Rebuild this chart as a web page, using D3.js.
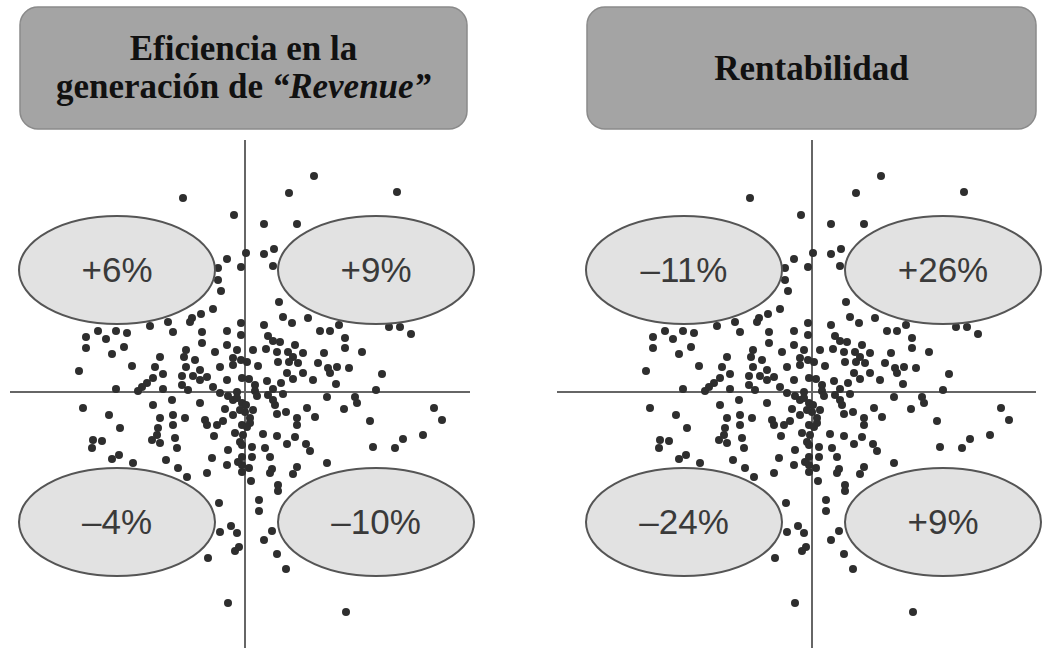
<!DOCTYPE html>
<html>
<head>
<meta charset="utf-8">
<script src="https://cdn.jsdelivr.net/npm/d3@7"></script>
<style>
  body { margin: 0; background: #fff; }
</style>
</head>
<body>
<svg id="chart" width="1054" height="648"></svg>
<script>
// scatter points, offsets from the crosshair (same cloud in both panels)
var dots = [
  [69,216],[44,199],[152,200],[-62,194],[-11,177],[19,168],[52,168],[-18,133],[1,139],[-4,125],
  [-27,124],[-27,112],[-24,101],[19,138],[29,143],[28,126],[34,90],[-32,83],[-44,78],[-53,74],
  [38,75],[63,74],[-95,66],[-77,70],[-55,70],[-4,69],[19,67],[47,69],[94,67],[144,65],
  [155,65],[-72,60],[-43,60],[-18,61],[-4,57],[75,61],[85,61],[166,58],[-147,61],[-129,61],
  [-118,59],[-159,55],[-139,53],[23,56],[28,51],[35,50],[100,54],[-43,49],[-18,47],[50,47],
  [-159,44],[-121,45],[-133,38],[-59,42],[-30,40],[-8,42],[8,42],[21,43],[32,40],[43,40],
  [58,39],[79,39],[100,44],[117,40],[-85,35],[-61,35],[-12,34],[48,35],[-50,32],[-4,32],
  [2,30],[33,30],[44,30],[53,29],[73,29],[-113,26],[-90,25],[-59,25],[-25,25],[-12,27],
  [13,26],[83,24],[92,25],[104,24],[-45,22],[-166,21],[-82,18],[-63,16],[-52,16],[-38,15],
  [42,19],[58,19],[85,19],[137,18],[-18,12],[4,13],[22,11],[36,9],[48,13],[68,12],
  [91,8],[-92,14],[-98,9],[-103,5],[-107,1],[-129,3],[-82,3],[-63,7],[-57,2],[-45,12],
  [-32,5],[-25,-1],[-8,0],[10,7],[10,1],[28,3],[131,2],[-3,14],[-17,-4],[-12,-8],
  [12,-4],[23,-3],[38,-2],[82,-5],[110,-5],[112,-11],[-162,-16],[-92,-13],[-73,-8],[-45,-11],
  [-20,-17],[0,-20],[8,-18],[30,-13],[28,-8],[62,-16],[99,-17],[189,-16],[-8,-6],[-3,-11],
  [-136,-23],[-85,-26],[-72,-23],[-60,-26],[-40,-28],[-12,-23],[32,-22],[41,-20],[70,-25],[5,-26],
  [52,-26],[-72,-33],[-38,-33],[-28,-33],[-22,-29],[-125,-36],[-87,-36],[-3,-33],[5,-31],[52,-33],
  [125,-29],[197,-28],[2,-35],[-88,-43],[-70,-46],[-31,-44],[-10,-41],[-2,-43],[18,-42],[32,-44],
  [50,-45],[178,-43],[-152,-48],[-143,-49],[-93,-48],[-85,-51],[-5,-50],[158,-47],[-153,-56],[-68,-56],
  [-17,-58],[-3,-53],[7,-55],[42,-52],[61,-52],[128,-55],[150,-56],[20,-56],[65,-59],[-126,-63],
  [-133,-67],[-33,-66],[-3,-65],[7,-65],[25,-65],[-79,-68],[-112,-71],[-18,-73],[-3,-73],[-67,-76],
  [82,-71],[52,-75],[27,-77],[-7,-70],[4,-76],[-58,-85],[-38,-81],[-3,-80],[6,-89],[25,-81],
  [48,-82],[33,-93],[33,-99],[-26,-111],[14,-108],[14,-119],[-25,-140],[-14,-134],[-8,-141],[27,-139],
  [19,-148],[-6,-155],[-10,-159],[32,-162],[-37,-166],[41,-177],[-17,-211],[101,-220],[1,-13],[-5,-18]
];

var panelTitles = [["Eficiencia en la", "generación de "], ["Rentabilidad"]];
var italicWord = "“Revenue”";
var quadrantLabels = [
  ["+6%", "+9%", "–4%", "–10%"],
  ["–11%", "+26%", "–24%", "+9%"]
];
// quadrant order: top-left, top-right, bottom-left, bottom-right
var quadrantSide = [[-1, 1], [1, 1], [-1, -1], [1, -1]];

var svg = d3.select("#chart");

var panels = [
  {cx: 245, cy: 392, box: [20, 467], hline: [10, 470]},
  {cx: 812, cy: 392, box: [587, 1036], hline: [557, 1036]}
];

panels.forEach(function(p, i) {
  var g = svg.append("g");

  // title box
  g.append("rect")
    .attr("x", p.box[0])
    .attr("y", 7)
    .attr("width", p.box[1] - p.box[0])
    .attr("height", 122)
    .attr("rx", 18)
    .attr("ry", 18)
    .style("fill", "#a4a4a4")
    .style("stroke", "#8a8a8a")
    .style("stroke-width", 1.5);

  var midX = (p.box[0] + p.box[1]) / 2;
  var lines = panelTitles[i];
  var title = g.append("text")
    .attr("text-anchor", "middle")
    .style("font-family", "'Liberation Serif', 'DejaVu Serif', serif")
    .style("font-weight", "bold")
    .style("font-size", "35px")
    .style("fill", "#111");

  if (lines.length == 1) {
    title.append("tspan").attr("x", midX).attr("y", 80).text(lines[0]);
  } else {
    title.append("tspan").attr("x", midX).attr("y", 60).text(lines[0]);
    var l2 = title.append("tspan").attr("x", midX).attr("y", 98);
    l2.append("tspan").text(lines[1]);
    l2.append("tspan").style("font-style", "italic").text(italicWord);
  }

  var x = d3.scaleLinear().domain([-240, 240]).range([p.cx - 240, p.cx + 240]);
  var y = d3.scaleLinear().domain([-260, 260]).range([p.cy + 260, p.cy - 260]);

  // crosshair
  g.append("line")
    .attr("x1", x(0)).attr("x2", x(0))
    .attr("y1", 140).attr("y2", 648)
    .style("stroke", "#666")
    .style("stroke-width", 2);
  g.append("line")
    .attr("x1", p.hline[0]).attr("x2", p.hline[1])
    .attr("y1", y(0)).attr("y2", y(0))
    .style("stroke", "#666")
    .style("stroke-width", 2);

  // dots
  g.append("g")
    .selectAll("circle")
    .data(dots)
    .enter()
    .append("circle")
    .attr("cx", function(d) { return x(d[0]); })
    .attr("cy", function(d) { return y(d[1]); })
    .attr("r", 4)
    .style("fill", "#2e2e2e");

  // quadrant ellipses
  var q = g.selectAll(".quad")
    .data(quadrantLabels[i])
    .enter()
    .append("g")
    .attr("class", "quad")
    .attr("transform", function(d, k) {
      var s = quadrantSide[k];
      var ex = s[0] < 0 ? -128 : 131;
      var ey = s[1] > 0 ? 122 : -130;
      return "translate(" + x(ex) + "," + y(ey) + ")";
    });

  q.append("ellipse")
    .attr("rx", 98)
    .attr("ry", 54)
    .style("fill", "#e2e2e2")
    .style("stroke", "#555")
    .style("stroke-width", 2);

  q.append("text")
    .attr("text-anchor", "middle")
    .attr("y", 12)
    .style("font-family", "'Liberation Sans', Arial, sans-serif")
    .style("font-size", "35px")
    .style("fill", "#3a3a3a")
    .text(function(d) { return d; });
});
</script>
</body>
</html>
